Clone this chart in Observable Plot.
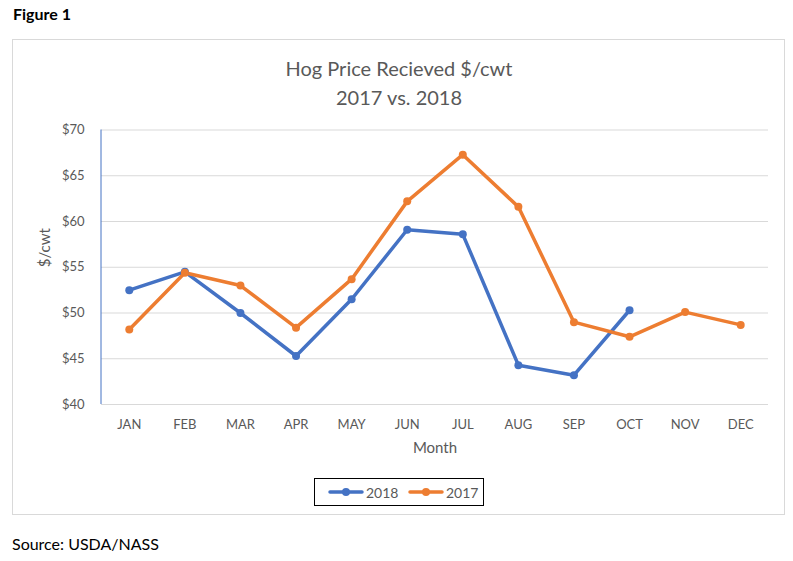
<!DOCTYPE html>
<html>
<head>
<meta charset="utf-8">
<script src="https://cdn.jsdelivr.net/npm/d3@7"></script>
<script src="https://cdn.jsdelivr.net/npm/@observablehq/plot@0.6"></script>
<style>
  html, body { margin: 0; padding: 0; background: #fff; }
  #page { position: relative; width: 793px; height: 561px; overflow: hidden; font-family: Lato, "Open Sans", sans-serif; }
  #fig { position: absolute; left: 13px; top: 4px; font-weight: bold; font-size: 16px; color: #000; }
  #box { position: absolute; left: 12px; top: 39px; width: 773px; height: 476px; border: 1px solid #d9d9d9; box-sizing: border-box; }
  .title { position: absolute; left: 12px; width: 774px; text-align: center; font-size: 20px; color: #595959; line-height: 1; }
  #chart { position: absolute; left: 0; top: 110px; }
  #legend { position: absolute; left: 314px; top: 478px; width: 170px; height: 28px; border: 1px solid #000; box-sizing: border-box; background: #fff; }
  .item { position: absolute; top: 0; height: 26px; display: flex; align-items: center; font-size: 14px; color: #595959; }
  .item svg { margin-right: 2px; }
  #source { position: absolute; left: 12px; top: 534px; font-size: 16px; color: #000; }
</style>
</head>
<body>
<div id="page">
  <div id="fig">Figure 1</div>
  <div id="box"></div>
  <div class="title" style="top:58px">Hog Price Recieved $/cwt</div>
  <div class="title" style="top:87px">2017 vs. 2018</div>
  <div id="chart"></div>
  <div id="legend"></div>
  <div id="source">Source: USDA/NASS</div>
</div>
<script>
const months = ["JAN","FEB","MAR","APR","MAY","JUN","JUL","AUG","SEP","OCT","NOV","DEC"];
const series = ["2018", "2017"];
const colors = ["#4472C4", "#ED7D31"];
const hog2018 = [52.5, 54.5, 50.0, 45.3, 51.5, 59.1, 58.6, 44.3, 43.2, 50.3];
const hog2017 = [48.2, 54.4, 53.0, 48.4, 53.7, 62.2, 67.3, 61.6, 49.0, 47.4, 50.1, 48.7];
const yTicks = [40, 45, 50, 55, 60, 65, 70];

const data = [
  ...hog2018.map((v, i) => ({month: months[i], value: v, series: "2018"})),
  ...hog2017.map((v, i) => ({month: months[i], value: v, series: "2017"}))
];

const leftAxisLine = (index, scales, values, dims) => {
  const line = document.createElementNS("http://www.w3.org/2000/svg", "line");
  line.setAttribute("x1", dims.marginLeft);
  line.setAttribute("x2", dims.marginLeft);
  line.setAttribute("y1", dims.marginTop);
  line.setAttribute("y2", dims.height - dims.marginBottom);
  line.setAttribute("stroke", "#4472C4");
  line.setAttribute("stroke-width", 1);
  return line;
};

const chart = Plot.plot({
  width: 793,
  height: 350,
  marginLeft: 101,
  marginRight: 25,
  marginTop: 19.5,
  marginBottom: 56,
  style: {fontFamily: "Lato, 'Open Sans', sans-serif", fontSize: "13px", color: "#595959", background: "transparent"},
  x: {type: "point", domain: months, padding: 0.5, round: false, label: null},
  y: {domain: [40, 70], label: null},
  color: {domain: series, range: colors},
  marks: [
    Plot.gridY(yTicks, {stroke: "#d9d9d9", strokeOpacity: 1, strokeWidth: 1}),
    leftAxisLine,
    Plot.axisY({ticks: yTicks, tickSize: 0, tickPadding: 17, tickFormat: d => "$" + d, label: null, fill: "#595959"}),
    Plot.axisX({tickSize: 0, tickPadding: 15, label: null, fill: "#595959"}),
    Plot.text(["Month"], {frameAnchor: "bottom", dy: 48, fontSize: 15, fill: "#595959"}),
    Plot.text(["$/cwt"], {frameAnchor: "left", dx: -56, rotate: -90, fontSize: 15, fill: "#595959"}),
    Plot.line(data, {x: "month", y: "value", z: "series", stroke: "series", strokeWidth: 3.5, strokeLinejoin: "round", strokeLinecap: "round"}),
    Plot.dot(data, {x: "month", y: "value", fill: "series", r: 4})
  ]
});
document.getElementById("chart").appendChild(chart);

const legend = document.getElementById("legend");
const lefts = [13, 93];
series.forEach((s, i) => {
  const item = document.createElement("div");
  item.className = "item";
  item.style.left = lefts[i] + "px";
  item.innerHTML = `<svg width="36" height="10"><line x1="2" x2="34" y1="5" y2="5" stroke="${colors[i]}" stroke-width="3.5" stroke-linecap="round"/><circle cx="18" cy="5" r="4" fill="${colors[i]}"/></svg><span>${s}</span>`;
  legend.appendChild(item);
});
</script>
</body>
</html>
